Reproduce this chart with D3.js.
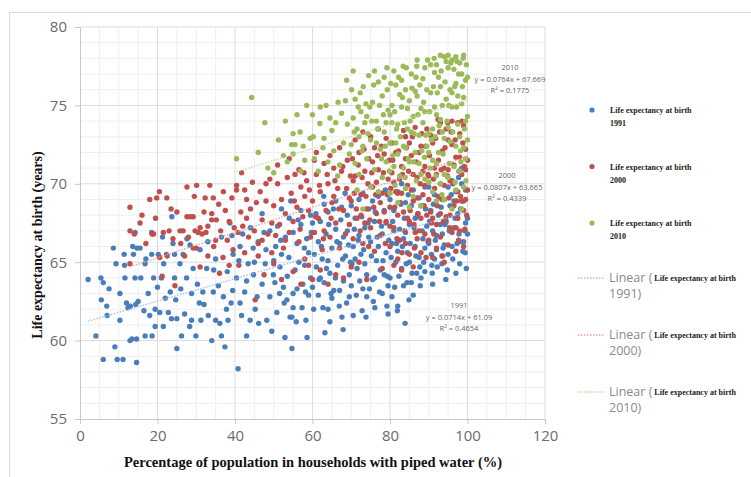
<!DOCTYPE html>
<html lang="en">
<head>
    <meta charset="UTF-8">
    <title>Life expectancy vs piped water</title>
    <script src="https://d3js.org/d3.v7.min.js"></script>
    <style>
        body { margin: 0; background: #fff; }
        .tick-label { font-family: "Open Sans", sans-serif; font-size: 15px; fill: #6b6b6b; }
        .axis-title { font-family: "Liberation Serif", serif; font-weight: bold; font-size: 14.5px; fill: #111; }
        .trend-label { font-family: "Open Sans", sans-serif; font-size: 7.5px; fill: #666; text-anchor: middle; }
        .leg-serif { font-family: "Liberation Serif", serif; font-weight: bold; font-size: 8px; fill: #222; }
        .leg-sans { font-family: "Open Sans", sans-serif; font-size: 12.5px; fill: #8a8a8a; }
    </style>
</head>
<body>
<div id="chart"></div>
<script>
// ---- data ----
const xTicks = [0, 20, 40, 60, 80, 100, 120];
const yTicks = [55, 60, 65, 70, 75, 80];
const years = ["1991", "2000", "2010"];
const colors = ["#4a7ebb", "#c0504d", "#9bbb59"];
const trendColors = ["#9dbfe3", "#e3a3a1", "#c9dba3"];
const slopes = [0.0714, 0.0807, 0.0764];
const intercepts = [61.09, 63.665, 67.669];
const rSquared = ["0.4654", "0.4339", "0.1775"];
const trendStart = [2, 12.9, 40.4];
const trendEnd = [100, 100, 100];

const pts1991 = [
    [2.1,63.9],[4.1,60.3],[5.4,64.0],[6,63.7],[5.5,62.6],[6,58.8],[6.9,62.2],[7,61.6],[7.5,63.3],[8.6,65.9],[9,59.6],[9.3,64.9],[9.6,58.8],
    [10.3,63.0],[10.3,61.3],[11.1,58.8],[11.4,65.5],[11.6,64.0],[12.4,62.1],[12.9,60.0],[13.4,60.1],[13.6,66.0],[13.8,65.5],[14.2,64.0],[14.2,66.9],[14.4,62.3],[14.6,60.1],[14.6,58.6],[14.7,65.9],[15.5,65.9],[15.7,64.0],[16.5,61.9],[16.8,60.3],[16.8,64.9],[17.6,63.0],[18,61.6],[18.5,65.5],[18.5,66.9],[18.6,60.3],[19,64.0],[19.4,60.9],[19.4,62.0],[12,62.4],[13,62.2],[11.5,64.8],[17,65.2],[15,62.5],
    [20.2,65.5],[20.6,61.8],[21,64.0],[21.3,66.6],[21.5,60.9],[21.6,64.9],[22.3,65.5],[22.8,61.8],[23.3,63.1],[23.6,61.4],[23.7,67.9],[24.4,64.0],[24.4,65.5],[24.7,62.6],[25,59.5],[25,61.4],[25.8,64.9],[26.2,60.3],[26.6,65.5],[27,61.7],[27.5,64.0],[27.6,66.5],[28.3,60.9],[28.4,66.1],[28.8,63.0],[28.8,61.3],[29.2,64.6],[29.9,60.3],[22,62.7],[26,63.3],[20,63.4],[24,66.2],
    [30.3,63.6],[30.8,62.4],[31.2,61.3],[31.7,63.1],[32.7,64.6],[33.1,61.6],[34,60.0],[34.4,63.1],[35,61.3],[35.7,63.5],[36.1,61.1],[36.5,60.3],[37,62.8],[37.4,59.6],[37.8,62.0],[38.2,61.3],[38.7,67.5],[39,62.4],[39.2,66.7],[39.4,63.2],[31,65.8],[33,66.3],[35,65.2],[36.5,66.6],[32,62.3],[34.5,64.5],[38,64.4],[39.5,65.5],
    [40.4,64.0],[40.8,58.2],[41.3,62.4],[41.3,66.0],[41.7,61.6],[42.5,63.1],[43,60.3],[43.4,64.9],[43.9,61.3],[44.7,65.9],[44.8,64.2],[45.2,62.0],[45.7,62.8],[46.1,61.1],[47,63.6],[47,68.1],[47.8,64.9],[48.2,61.3],[49,62.8],[49.5,60.6],[49.9,64.2],[42,66.8],[44,67.2],[46,66.3],[48,65.8],[49,67.0],[41,65.1],[45,65.0],[47.5,66.9],[43,63.8],
    [50.8,61.8],[51.6,64.7],[52.5,63.4],[52.9,60.2],[53.4,62.6],[54.2,61.5],[54.7,59.5],[55,63.0],[55,62.1],[57.3,62.1],[58.3,61.3],[58.6,60.2],[54.7,61.5],[50.5,66.0],[51,67.3],[52,65.5],[53,66.6],[54,67.8],[55.5,64.5],[56,66.2],[56.5,65.0],[57,67.4],[57.5,63.6],[58,64.8],[58.5,66.5],[59,65.6],[59.5,68.0],[50,65.1],[51.5,63.0],[53.5,64.1],[56,63.3],[59,62.9],[55,66.9],[57,68.3],[52,68.4],[59.5,64.0],
    [50.3,63.7],[51.8,66.4],[52.7,62.4],[53.9,65.3],[54.4,68.9],[55.8,61.2],[56.3,67.7],[57.9,65.9],[58.2,63.1],[59.7,66.9],
    [62.7,62.1],[64,62.0],[64.5,61.2],[63.2,60.5],[67.6,61.5],[67.9,60.7],[60,63.4],[61,64.7],[61.5,66.3],[62,67.6],[62.5,65.2],[63,63.7],[63.5,66.8],[64,68.2],[64.5,64.3],[65,65.9],[65.5,63.2],[66,67.1],[66.5,64.8],[67,66.2],[67.5,68.5],[68,63.8],[68.5,65.4],[69,67.0],[69.5,64.2],[60.5,65.5],[61.5,62.9],[63,68.7],[65,62.7],[66,68.9],[68,66.6],[69.5,62.8],[60,67.5],[62,64.0],[64,65.1],[67,63.2],[69,68.0],
    [60.3,62.0],[60.9,68.1],[61.7,63.9],[62.3,66.0],[62.9,69.2],[63.6,64.6],[64.2,67.4],[64.8,63.0],[65.4,68.4],[65.9,64.0],[66.3,66.3],[66.9,62.2],[67.3,67.7],[67.8,65.2],[68.4,69.4],[68.8,62.4],[69.3,66.1],[69.8,65.0],
    [70.5,61.6],[72.8,61.9],[76.1,62.1],[79.2,62.2],[79.5,61.7],[70,63.5],[70.5,66.0],[71,67.8],[71.5,64.6],[72,69.0],[72.5,65.5],[73,63.3],[73.5,67.2],[74,64.2],[74.5,68.4],[75,66.3],[75.5,63.9],[76,67.6],[76.5,65.1],[77,69.2],[77.5,64.5],[78,66.8],[78.5,68.3],[79,65.6],[79.5,63.5],[70,68.6],[72,66.7],[74,62.8],[76,64.0],[78,63.0],[73,69.4],[75.5,68.9],[77,66.0],[79,67.5],[71,65.2],[74.5,66.6],[78.5,64.2],[73.5,64.9],
    [70.2,64.9],[70.8,67.1],[71.3,62.9],[71.8,66.4],[72.2,63.8],[72.7,67.9],[73.2,65.8],[73.8,61.5],[74.3,67.5],[74.7,63.3],[75.2,65.4],[75.7,62.5],[76.2,68.2],[76.7,66.6],[77.3,63.1],[77.8,67.3],[78.2,65.1],[78.8,69.6],[79.3,64.1],[79.7,66.4],
    [82,62.2],[83.9,61.1],[84.4,63.7],[86.9,64.3],[87.7,64.7],[80,64.0],[80.5,66.2],[81,68.3],[81.5,65.0],[82,69.5],[82.5,67.1],[83,64.6],[83.5,66.5],[84,68.8],[84.5,65.6],[85,67.4],[85.5,63.7],[86,69.6],[86.5,66.0],[87,67.9],[87.5,65.3],[88,68.6],[88.5,66.5],[89,64.4],[89.5,67.3],[80.5,62.8],[82,65.7],[83,70.0],[85,65.0],[86,62.9],[87.5,69.1],[89,69.8],[81,67.0],[84,66.9],[88,64.0],[80,69.0],[85.5,68.6],[83.5,63.5],[86.5,67.8],[89,65.9],
    [80.3,65.3],[80.7,67.6],[81.2,63.4],[81.7,66.2],[82.3,64.1],[82.8,68.7],[83.2,66.0],[83.7,67.8],[84.2,64.9],[84.7,69.3],[85.2,66.2],[85.7,64.3],[86.2,67.2],[86.7,65.4],[87.2,68.1],[87.8,63.5],[88.3,67.0],[88.7,65.0],[89.2,68.4],[89.8,66.3],[81.9,61.9],[84.9,62.6],
    [90.8,64.8],[90.9,64.3],[93.4,64.9],[98,64.9],[99.4,65.6],[97.8,66.8],[93.4,65.4],[90,66.2],[90.5,68.3],[91,67.0],[91.5,69.3],[92,65.8],[92.5,68.0],[93,70.0],[93.5,66.8],[94,69.0],[94.5,67.6],[95,65.5],[95.5,68.6],[96,70.2],[96.5,67.2],[97,69.5],[97.5,68.1],[98,66.3],[98.5,70.0],[99,68.9],[99.5,67.5],[91,63.6],[92,66.7],[94,66.1],[95,69.8],[96,66.0],[97,64.3],[98.5,71.0],[99,66.3],[90,69.8],[93,67.4],[96.5,68.9],[99.5,69.6],[91.5,65.2],
    [90.2,67.6],[90.7,65.5],[91.2,68.7],[91.7,66.4],[92.2,64.7],[92.7,69.1],[93.2,68.5],[93.7,65.9],[94.2,67.4],[94.8,64.5],[95.3,67.0],[95.8,69.3],[96.2,65.2],[96.8,67.8],[97.3,66.2],[97.7,70.4],[98.2,68.4],[98.8,65.7],[99.3,67.0],[99.7,64.6],[94.4,63.9],[100,67.8],[100,66.8]
];

const pts2000 = [
    [12.9,68.5],[12.9,67.0],[12.9,64.9],[18.6,66.8],[19,66.8],[19.8,69.1],[14,66.8],[15.5,67.5],[17,66.2],[16,68.0],[18,69.0],[19.5,67.8],
    [20.5,69.5],[22.4,69.1],[20.6,65.3],[21.2,64.1],[24.5,63.5],[25.8,67.0],[26.6,67.0],[27.6,67.9],[28.4,67.9],[29.2,67.9],[29.2,65.9],[29.7,67.0],[27.6,69.8],[23,67.0],[24,66.5],[25,68.2],[26,66.2],[28,66.6],[21.5,66.9],[22.5,65.4],[27,65.4],[29.5,69.2],[23.5,68.4],
    [30.1,69.9],[30.5,66.9],[31,67.2],[31.5,66.8],[32.3,69.1],[32.5,66.9],[33.5,69.9],[33,67.3],[34,68.1],[34,67.7],[34.4,69.1],[35.2,67.7],[35.8,68.7],[36.3,67.0],[36.9,65.3],[37.5,68.3],[38,66.4],[38.5,67.6],[39.2,69.1],[39.5,65.8],[39.8,67.2],[30,65.9],[31,64.7],[33,65.4],[35,66.4],[37,69.5],[38.5,64.8],[36,64.3],[34.5,66.0],[32,68.2],
    [40.4,69.9],[40.4,69.6],[41.7,70.7],[40.8,66.9],[41.5,68.2],[42,67.3],[42.5,65.6],[43,69.0],[43.5,66.6],[44,68.4],[44.5,70.1],[45,67.0],[45.5,68.8],[46,66.2],[46.5,69.5],[47,67.7],[47.5,64.2],[48,68.9],[48.5,66.8],[49,70.3],[49.5,67.5],[45.2,62.6],[41,64.8],[43,67.8],[46,65.4],[48,70.0],[49.5,65.6],[42.5,69.6],[47,66.4],
    [50,68.6],[50.5,66.7],[51,70.0],[51.5,67.4],[52,69.0],[52.5,65.9],[53,68.1],[53.5,70.4],[54,66.9],[54.5,69.4],[55,67.6],[55.5,70.6],[56,68.5],[56.5,66.3],[57,69.8],[57.5,67.9],[58,65.2],[58.5,70.2],[59,68.3],[59.5,66.6],[50,64.9],[52,63.9],[55,64.4],[57,63.6],[59,64.8],[51,71.2],[54,71.6],[56.5,70.9],[58,69.2],[53,66.4],
    [55.3,68.9],[56.8,67.1],[57.8,70.7],[59.2,69.6],
    [60,68.9],[60.5,66.9],[61,70.6],[61.5,67.8],[62,69.5],[62.5,65.8],[63,71.3],[63.5,68.3],[64,70.0],[64.5,66.6],[65,68.8],[65.5,71.0],[66,67.5],[66.5,69.7],[67,65.9],[67.5,70.8],[68,68.3],[68.5,66.8],[69,71.5],[69.5,69.1],[60,63.9],[62,64.5],[64,63.6],[66,64.2],[68,64.0],[61,72.0],[64.5,71.8],[67,72.3],[69.5,67.4],[63,67.0],[65.5,69.2],[60.5,71.5],
    [60.8,67.9],[61.8,69.9],[62.8,66.5],[63.8,70.6],[64.8,67.8],[65.8,70.2],[66.8,68.4],[67.8,71.1],[68.8,69.7],[69.8,70.5],
    [70,68.9],[70.5,66.5],[71,70.5],[71.5,67.8],[72,72.0],[72.5,69.3],[73,66.2],[73.5,70.8],[74,68.4],[74.5,71.6],[75,67.2],[75.5,69.8],[76,72.3],[76.5,68.1],[77,70.9],[77.5,66.7],[78,69.4],[78.5,71.9],[79,67.6],[79.5,70.3],[70,64.7],[72,65.0],[74,63.9],[76,65.7],[78,64.6],[71,72.8],[73,73.3],[75,73.0],[77,73.5],[79,72.9],[70.5,70.2],[72.5,68.0],[74.5,66.0],[76.5,70.1],[78.5,68.2],[73.5,67.5],[75.5,71.4],[77.5,68.8],
    [70.3,71.6],[70.8,69.4],[71.3,68.4],[71.8,71.2],[72.3,67.0],[72.8,70.4],[73.3,72.2],[73.8,69.2],[74.3,70.0],[74.8,67.7],[75.3,70.7],[75.8,68.5],[76.3,69.3],[76.8,71.8],[77.3,67.6],[77.8,72.4],[78.3,70.7],[78.8,66.2],[79.3,69.3],[79.8,71.5],
    [80,68.5],[80.5,70.7],[81,67.2],[81.5,72.0],[82,69.4],[82.5,66.4],[83,71.1],[83.5,68.2],[84,73.0],[84.5,69.9],[85,67.6],[85.5,71.8],[86,68.9],[86.5,73.6],[87,70.4],[87.5,67.0],[88,72.4],[88.5,69.3],[89,71.1],[89.5,68.0],[80,66.0],[81,64.8],[82,65.2],[83,64.5],[84,66.2],[85,65.5],[86,64.7],[87,66.5],[88,65.6],[89,66.8],[80.5,72.6],[81.5,69.5],[82.5,70.3],[83.5,73.4],[84.5,67.8],[85.5,69.6],[86.5,66.9],[87.5,72.0],[88.5,70.8],[89.5,73.5],[80,67.3],[82,68.0],[84,71.6],[86,70.6],[88,67.8],[81,70.1],[83,69.4],[85,72.6],[87,69.1],[89,69.9],
    [80.2,69.7],[80.7,71.5],[81.2,68.5],[81.8,66.5],[82.2,72.1],[82.7,68.8],[83.2,70.6],[83.8,67.0],[84.2,72.3],[84.8,70.8],[85.2,68.3],[85.8,73.0],[86.2,67.4],[86.8,71.4],[87.2,68.1],[87.8,70.0],[88.2,73.2],[88.8,68.6],[89.2,72.4],[89.8,70.6],[83.1,65.6],[86.3,65.9],[89.3,65.3],
    [90,70.5],[90.5,68.2],[91,72.6],[91.5,69.7],[92,67.4],[92.5,71.5],[93,73.9],[93.5,69.0],[94,71.0],[94.5,67.9],[95,72.8],[95.5,70.2],[96,74.0],[96.5,68.6],[97,71.7],[97.5,69.5],[98,73.2],[98.5,70.6],[99,68.3],[99.5,72.2],[90,66.4],[91,65.3],[92,65.9],[93,66.6],[94,65.0],[95,66.1],[96,66.9],[97,65.7],[98,67.0],[99,66.0],[90.5,73.1],[91.5,71.0],[92.5,69.2],[93.5,72.1],[94.5,73.5],[95.5,68.0],[96.5,71.2],[97.5,73.9],[98.5,68.9],[99.5,70.9],[90,69.0],[91,67.8],[92,70.6],[93,68.1],[94,69.9],[95,70.9],[96,72.5],[97,67.2],[98,71.7],[99,73.7],[99.5,69.0],[97.5,67.8],
    [90.2,71.8],[90.7,67.5],[91.2,70.3],[91.8,72.9],[92.2,68.6],[92.8,73.3],[93.2,70.9],[93.8,67.6],[94.2,72.3],[94.8,70.5],[95.2,69.1],[95.8,73.3],[96.2,70.0],[96.8,72.8],[97.2,68.9],[97.8,70.8],[98.2,69.2],[98.8,72.6],[99.2,71.1],[99.8,68.0],[91.3,66.8],[93.6,65.4],[95.4,67.2],[97.7,66.4],[99.3,67.1],[92.4,74.1],[94.9,73.9],[98.6,74.0],[100,71.5],[100,69.6]
];

const pts2010 = [
    [40.4,71.6],[44.3,75.5],[47.7,73.9],[51.2,72.8],[53.5,71.4],[54.6,72.5],[55,71.9],[55,73.2],[55.5,72.5],[56.8,73.3],[57.6,72.4],[58.5,75.0],[59.4,72.9],[46,72.0],[48.5,71.0],[50,70.7],[52.5,71.8],[57,70.8],[53,74.0],[58,71.5],[56,74.4],
    [60.2,73.0],[61.9,73.85],[62.7,72.3],[64.5,74.2],[65,73.4],[66.6,75.2],[68.8,76.6],[60.5,71.6],[61.5,70.8],[63,72.9],[63.5,75.0],[64,71.4],[65.5,72.1],[66,73.9],[67,71.2],[67.5,74.5],[68,72.6],[69,73.8],[69.5,71.9],[62,74.9],[66.5,70.5],[68.5,75.3],[60,74.4],
    [70.1,76.0],[70.5,77.2],[71,75.4],[72.3,75.8],[73.1,76.2],[74.8,74.9],[79.2,77.4],[73,68.4],[70,72.5],[70.5,74.2],[71,71.3],[71.5,73.5],[72,70.6],[72.5,74.6],[73,72.4],[73.5,73.9],[74,71.6],[74.5,76.9],[75,72.8],[75.5,75.2],[76,70.9],[76.5,74.0],[77,76.5],[77.5,72.2],[78,75.6],[78.5,73.3],[79,71.4],[79.5,74.7],[75,69.8],[77,69.5],[78,70.4],[71.5,69.6],[76,77.2],[78.5,76.8],[72,73.0],[74,74.3],[76.5,72.6],[79,73.9],
    [70.8,73.3],[71.8,74.9],[72.8,72.1],[73.8,75.1],[74.3,73.2],[75.3,74.0],[75.8,76.3],[76.8,73.5],[77.3,75.0],[77.8,71.6],[78.3,74.4],[78.8,72.4],[79.3,76.0],[79.8,70.8],
    [83.4,77.5],[86.9,77.5],[80,72.6],[80.5,75.0],[81,71.1],[81.5,76.3],[82,73.8],[82.5,70.5],[83,74.9],[83.5,72.4],[84,76.0],[84.5,73.5],[85,71.4],[85.5,77.0],[86,74.3],[86.5,72.0],[87,75.6],[87.5,73.1],[88,70.6],[88.5,76.7],[89,74.6],[89.5,72.4],[80,69.4],[82,68.8],[84,69.7],[86,69.2],[88,68.6],[80.5,73.9],[81.5,72.6],[82.5,75.7],[83.5,71.0],[84.5,74.8],[85.5,73.3],[86.5,75.9],[87.5,71.3],[88.5,73.9],[89.5,76.0],[81,77.2],[83,76.6],[85,75.3],[87,77.9],[89,77.4],[80,74.4],[82,71.9],[84,72.3],[86,71.4],[88,74.8],[85,68.5],[89,70.3],
    [80.2,76.4],[80.7,71.8],[81.2,74.6],[81.7,73.5],[82.2,76.8],[82.7,73.0],[83.2,75.5],[83.7,73.9],[84.2,77.4],[84.7,71.6],[85.2,74.0],[85.7,76.1],[86.2,73.2],[86.7,76.8],[87.2,74.4],[87.7,76.3],[88.2,72.1],[88.7,75.2],[89.2,73.1],[89.7,77.9],[81.3,69.9],[83.9,70.4],[86.8,70.2],[88.9,71.7],
    [93,78.2],[95,78.2],[97,78.1],[99,78.2],[90,73.2],[90.5,75.8],[91,71.5],[91.5,77.1],[92,74.4],[92.5,72.0],[93,76.2],[93.5,73.3],[94,70.6],[94.5,75.4],[95,77.4],[95.5,72.7],[96,74.9],[96.5,71.1],[97,76.4],[97.5,73.8],[98,77.7],[98.5,75.1],[99,72.3],[99.5,76.6],[90,70.1],[91,69.5],[92,68.9],[93,70.0],[94,69.0],[95,70.4],[96,68.4],[97,69.6],[98,70.8],[99,69.8],[98.5,68.4],[90.5,77.6],[91.5,74.9],[92.5,76.8],[93.5,75.0],[94.5,77.8],[95.5,76.0],[96.5,77.3],[97.5,75.6],[98.5,77.0],[99.5,74.0],[90,72.0],[91,73.5],[92,71.3],[93,74.1],[94,72.9],[95,73.6],[96,75.8],[97,72.4],[98,73.0],[99,75.5],[99.5,71.6],[96,77.9],[92,77.6],
    [90.2,74.6],[90.7,72.8],[91.2,76.2],[91.7,73.0],[92.2,75.8],[92.7,73.7],[93.2,77.2],[93.7,71.9],[94.2,76.5],[94.7,74.0],[95.2,75.0],[95.7,77.7],[96.2,73.3],[96.7,76.2],[97.2,74.9],[97.7,77.0],[98.2,72.1],[98.7,76.2],[99.2,73.5],[99.7,77.6],[90.4,71.0],[91.9,70.5],[93.4,69.3],[95.3,71.3],[96.8,70.1],[98.3,71.4],[99.6,70.2],[91.4,78.0],[94.1,78.1],[97.3,77.8],[98.9,78.0],[100,76.8],[100,74.3],[100,72.8]
];

const allSeries = [pts1991, pts2000, pts2010];

// ---- layout ----
const width = 751, height = 477;
const x = d3.scaleLinear().domain([0, 120]).range([80, 545]);
const y = d3.scaleLinear().domain([55, 80]).range([419, 27]);

const svg = d3.select("#chart").append("svg")
    .attr("width", width)
    .attr("height", height);

// outer frame
svg.append("rect")
    .attr("x", 9.5).attr("y", 12.5)
    .attr("width", 760).attr("height", 480)
    .attr("fill", "none")
    .attr("stroke", "#d9d9d9");

// minor grid
const grid = svg.append("g");
grid.selectAll(".vminor")
    .data(d3.range(5, 120, 5).filter(v => v % 20 !== 0))
    .enter().append("line")
    .attr("x1", d => x(d)).attr("x2", d => x(d))
    .attr("y1", y(80)).attr("y2", y(55))
    .attr("stroke", "#efefef");
grid.selectAll(".hminor")
    .data(d3.range(56, 80, 1).filter(v => v % 5 !== 0))
    .enter().append("line")
    .attr("x1", x(0)).attr("x2", x(120))
    .attr("y1", d => y(d)).attr("y2", d => y(d))
    .attr("stroke", "#efefef");
// major grid
grid.selectAll(".vmajor")
    .data(xTicks.slice(1))
    .enter().append("line")
    .attr("x1", d => x(d)).attr("x2", d => x(d))
    .attr("y1", y(80)).attr("y2", y(55))
    .attr("stroke", "#dcdcdc");
grid.selectAll(".hmajor")
    .data(yTicks.slice(1))
    .enter().append("line")
    .attr("x1", x(0)).attr("x2", x(120))
    .attr("y1", d => y(d)).attr("y2", d => y(d))
    .attr("stroke", "#dcdcdc");

// axes
const xAxis = svg.append("g")
    .attr("transform", `translate(0,${y(55)})`)
    .call(d3.axisBottom(x).tickValues(xTicks).tickSize(5).tickPadding(6));
const yAxis = svg.append("g")
    .attr("transform", `translate(${x(0)},0)`)
    .call(d3.axisLeft(y).tickValues(yTicks).tickSize(5).tickPadding(8));
[xAxis, yAxis].forEach(a => {
    a.select(".domain").attr("stroke", "#c8c8c8");
    a.selectAll(".tick line").attr("stroke", "#c8c8c8");
    a.selectAll(".tick text").attr("class", "tick-label").attr("fill", null);
});

// points
allSeries.forEach((pts, i) => {
    svg.append("g").selectAll("circle")
        .data(pts)
        .enter().append("circle")
        .attr("cx", d => x(d[0]))
        .attr("cy", d => y(d[1]))
        .attr("r", 2.7)
        .attr("fill", colors[i]);
});

// trendlines
years.forEach((yr, i) => {
    svg.append("line")
        .attr("x1", x(trendStart[i])).attr("y1", y(intercepts[i] + slopes[i] * trendStart[i]))
        .attr("x2", x(trendEnd[i])).attr("y2", y(intercepts[i] + slopes[i] * trendEnd[i]))
        .attr("stroke", trendColors[i])
        .attr("stroke-width", 1.3)
        .attr("stroke-dasharray", "1.5,1.5");
});

// trendline equations
const eqPos = [[459, 308], [507, 178], [510, 70]];
years.forEach((yr, i) => {
    const t = svg.append("text").attr("class", "trend-label")
        .attr("x", eqPos[i][0]).attr("y", eqPos[i][1]);
    t.append("tspan").attr("x", eqPos[i][0]).text(yr);
    t.append("tspan").attr("x", eqPos[i][0]).attr("dy", 11.5)
        .text(`y = ${slopes[i]}x  + ${intercepts[i]}`);
    t.append("tspan").attr("x", eqPos[i][0]).attr("dy", 11.5)
        .text(`R² = ${rSquared[i]}`);
});

// axis titles
svg.append("text").attr("class", "axis-title")
    .attr("transform", "translate(42,245) rotate(-90)")
    .attr("text-anchor", "middle")
    .style("font-size", "14px")
    .text("Life expectancy at birth (years)");
svg.append("text").attr("class", "axis-title")
    .attr("x", 313).attr("y", 467)
    .attr("text-anchor", "middle")
    .text("Percentage of population in households with piped water (%)");

// legend
const legend = svg.append("g");
years.forEach((yr, i) => {
    const ly = 110 + i * 56.5;
    legend.append("circle").attr("cx", 592).attr("cy", ly).attr("r", 2.6).attr("fill", colors[i]);
    legend.append("text").attr("class", "leg-serif").attr("x", 610).attr("y", ly + 3).text("Life expectancy at birth");
    legend.append("text").attr("class", "leg-serif").attr("x", 610).attr("y", ly + 16).text(yr);
});
years.forEach((yr, i) => {
    const ly = 278 + i * 57;
    legend.append("line")
        .attr("x1", 578).attr("x2", 604).attr("y1", ly).attr("y2", ly)
        .attr("stroke", trendColors[i]).attr("stroke-width", 1.3)
        .attr("stroke-dasharray", "1.5,1.5");
    const lin = legend.append("text").attr("class", "leg-sans")
        .attr("x", 609).attr("y", ly + 4).text("Linear (");
    const w = lin.node().getComputedTextLength();
    legend.append("text").attr("class", "leg-serif")
        .attr("x", 609 + w + 2).attr("y", ly + 3).text("Life expectancy at birth");
    legend.append("text").attr("class", "leg-sans").attr("x", 609).attr("y", ly + 20).text(yr + ")");
});
</script>
</body>
</html>
